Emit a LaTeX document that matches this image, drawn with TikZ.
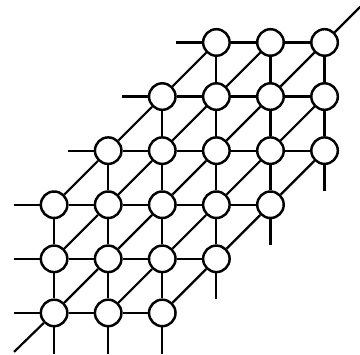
\documentclass[tikz,border=0pt]{standalone}
\usetikzlibrary{positioning}

\begin{document}
\begin{tikzpicture}[x=1cm, y=1cm,
  site/.style={circle, draw, line width=1.3pt, fill=white, minimum size=0.49cm, inner sep=0pt},
  bond/.style={line width=1.15pt}]
\useasboundingbox (-1.0,-0.76) rectangle (5.655,5.785);

% Sites (|i-j| <= 2)
\foreach \i in {0,...,5} {
 \foreach \j in {0,...,5} {
  \pgfmathtruncatemacro{\d}{abs(\i-\j)}
  \ifnum\d<3
   \node[site] (n\i\j) at (\i,\j) {};
  \fi
 }
}

% Row bonds
\foreach \i in {0,...,4} {
 \foreach \j in {0,...,5} {
  \pgfmathtruncatemacro{\k}{\i+1}
  \pgfmathtruncatemacro{\d}{\i-\j}
  \ifnum\d>-3 \ifnum\d<2
   \draw[bond] (n\i\j) -- (n\k\j);
  \fi\fi
 }
}

% Column bonds
\foreach \i in {0,...,5} {
 \foreach \j in {0,...,4} {
  \pgfmathtruncatemacro{\l}{\j+1}
  \pgfmathtruncatemacro{\d}{\i-\j}
  \ifnum\d>-2 \ifnum\d<3
   \draw[bond] (n\i\j) -- (n\i\l);
  \fi\fi
 }
}

% Diagonal bonds
\foreach \i in {0,...,4} {
 \foreach \j in {0,...,4} {
  \pgfmathtruncatemacro{\k}{\i+1}
  \pgfmathtruncatemacro{\l}{\j+1}
  \pgfmathtruncatemacro{\d}{\i-\j}
  \ifnum\d>-3 \ifnum\d<3
   \draw[bond] (n\i\j) -- (n\k\l);
  \fi\fi
 }
}

% Open ends
\foreach \i/\j in {0/0, 0/1, 0/2, 1/3, 2/4, 3/5} {
 \coordinate (w\i\j) at (\i-0.75,\j);
 \draw[bond] (n\i\j) -- (w\i\j);
}
\foreach \i/\j in {0/0, 1/0, 2/0, 3/1, 4/2, 5/3} {
 \coordinate (s\i\j) at (\i,\j-0.75);
 \draw[bond] (n\i\j) -- (s\i\j);
}
\coordinate (sw) at (-0.74,-0.72);
\coordinate (ne) at (5.66,5.66);
\draw[bond] (n00) -- (sw);
\draw[bond] (n55) -- (ne);
\end{tikzpicture}
\end{document}
